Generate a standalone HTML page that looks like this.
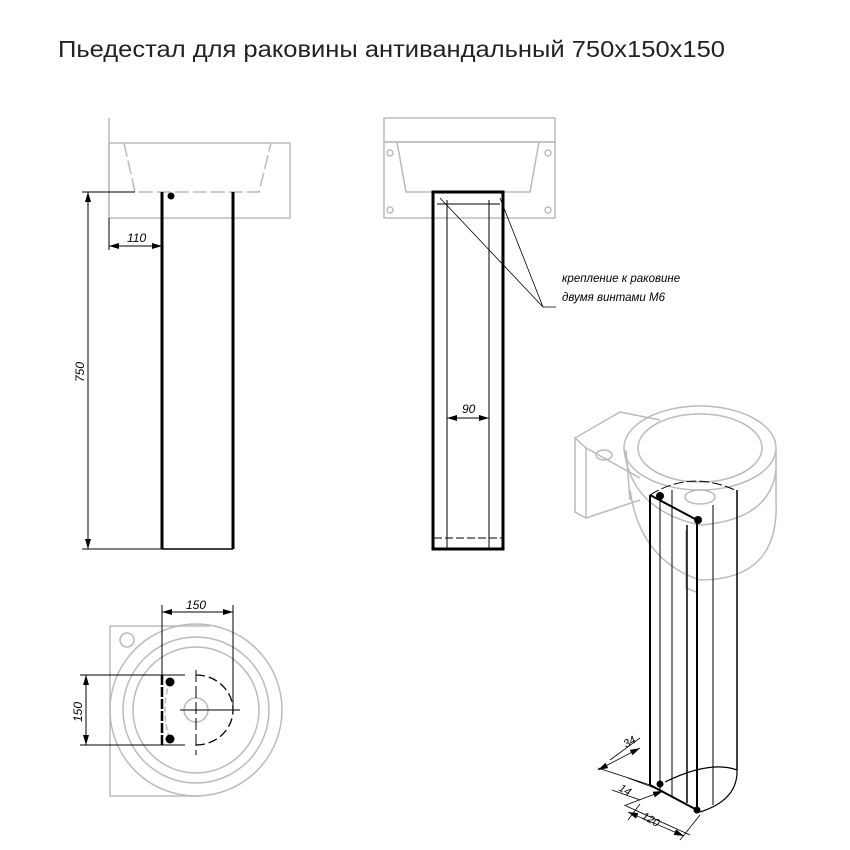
<!DOCTYPE html>
<html><head><meta charset="utf-8"><style>
html,body{margin:0;padding:0;background:#fff}
svg{display:block}
text{font-family:"Liberation Sans",sans-serif}
</style></head><body>
<svg width="850" height="850" viewBox="0 0 850 850" xmlns="http://www.w3.org/2000/svg">
<defs>
<marker id="a" viewBox="0 0 10 6" refX="10" refY="3" markerWidth="10" markerHeight="6" orient="auto-start-reverse" markerUnits="userSpaceOnUse"><path d="M0,0 L10,3 L0,6z" fill="#000"/></marker>
</defs>
<text x="58" y="57" font-size="23" fill="#222" textLength="667" lengthAdjust="spacingAndGlyphs">Пьедестал для раковины антивандальный 750x150x150</text>

<!-- View 1 -->
<g stroke="#bbb" stroke-width="1.5" fill="none">
<line x1="109" y1="118" x2="109" y2="218"/>
<rect x="109" y="143" width="181" height="75"/>
<path d="M124,143 L135,192 L259,192 L271,143" stroke-dasharray="14,4"/>
</g>
<g stroke="#000" fill="none">
<line x1="162" y1="192" x2="162" y2="549" stroke-width="3"/>
<line x1="233" y1="192" x2="233" y2="549" stroke-width="3"/>
<line x1="162" y1="549" x2="233" y2="549" stroke-width="1.5"/>
<line x1="82" y1="192" x2="135" y2="192" stroke-width="1"/>
<line x1="82" y1="549" x2="162" y2="549" stroke-width="1"/>
<line x1="88" y1="192" x2="88" y2="549" stroke-width="1" marker-start="url(#a)" marker-end="url(#a)"/>
<line x1="109" y1="218" x2="109" y2="250" stroke-width="1"/>
<line x1="109" y1="246" x2="162" y2="246" stroke-width="1" marker-start="url(#a)" marker-end="url(#a)"/>
</g>
<circle cx="171" cy="196" r="3.5" fill="#000"/>
<text x="127" y="242" font-size="12" font-style="italic">110</text>
<text transform="translate(84,382) rotate(-90)" font-size="12" font-style="italic">750</text>

<!-- View 2 -->
<g stroke="#bbb" stroke-width="1.5" fill="none">
<rect x="384" y="118" width="171" height="24"/>
<rect x="384" y="142" width="171" height="76"/>
<path d="M397,142 L406,192 L530,192 L539,142"/>
<circle cx="390" cy="153" r="3"/><circle cx="548" cy="153" r="3"/>
<circle cx="390" cy="210" r="3"/><circle cx="548" cy="210" r="3"/>
</g>
<g stroke="#000" fill="none">
<rect x="433" y="192" width="70" height="357" stroke-width="3"/>
<line x1="447" y1="200" x2="447" y2="549" stroke-width="1"/>
<line x1="489" y1="200" x2="489" y2="549" stroke-width="1"/>
<line x1="437" y1="204" x2="500" y2="204" stroke-width="1"/>
<line x1="434" y1="538" x2="502" y2="538" stroke-width="1" stroke-dasharray="8,3"/>
<line x1="447" y1="418" x2="489" y2="418" stroke-width="1" marker-start="url(#a)" marker-end="url(#a)"/>
<path d="M440,198 L543,307 L556,307 M500,198 L543,307" stroke-width="0.8"/>
</g>
<text x="462" y="413" font-size="12" font-style="italic">90</text>
<text x="562" y="282" font-size="11.5" font-style="italic">крепление к раковине</text>
<text x="562" y="301" font-size="11.5" font-style="italic">двумя винтами М6</text>

<!-- View 3 top -->
<g stroke="#bbb" stroke-width="1.5" fill="none">
<path d="M210,626 L110,626 L110,796 L200,796"/>
<circle cx="196" cy="710" r="86"/>
<circle cx="196" cy="710" r="73"/>
<circle cx="196" cy="710" r="63"/>
<circle cx="127" cy="640" r="7"/>
<circle cx="196" cy="710" r="12"/>
<path d="M170,680 Q160,710 170,740" stroke-dasharray="6,3"/>
</g>
<g stroke="#000" fill="none" stroke-width="1">
<path d="M196,675 A37,35 0 0 1 196,745" stroke-dasharray="9,4" stroke-width="1.3"/>
<line x1="162" y1="675" x2="162" y2="745" stroke-width="2.5" stroke-dasharray="10,2"/>
<line x1="162" y1="675" x2="185" y2="675"/>
<line x1="162" y1="745" x2="185" y2="745"/>
<line x1="180" y1="710" x2="240" y2="710"/>
<line x1="196" y1="670" x2="196" y2="755" stroke-dasharray="12,4"/>
<line x1="162" y1="605" x2="162" y2="675"/>
<line x1="233" y1="605" x2="233" y2="710"/>
<line x1="162" y1="612" x2="233" y2="612" marker-start="url(#a)" marker-end="url(#a)"/>
<line x1="80" y1="675" x2="162" y2="675"/>
<line x1="80" y1="745" x2="162" y2="745"/>
<line x1="86" y1="675" x2="86" y2="745" marker-start="url(#a)" marker-end="url(#a)"/>
</g>
<circle cx="170" cy="682" r="4.5" fill="#000"/><circle cx="170" cy="739" r="4.5" fill="#000"/>
<text x="186" y="609" font-size="12" font-style="italic">150</text>
<text transform="translate(82,722) rotate(-90)" font-size="12" font-style="italic">150</text>

<!-- View 4 isometric -->
<g stroke="#bbb" stroke-width="1.5" fill="none">
<path d="M575,438 L575,512 L586,518 L586,448 Z"/>
<path d="M586,448 L640,478 M586,518 L640,500"/>
<path d="M575,438 L620,412 L660,420"/>
<ellipse cx="700" cy="448" rx="76" ry="42"/>
<ellipse cx="700" cy="448" rx="62" ry="34"/>
<path d="M624,448 Q630,510 700,525 Q770,520 776,470"/>
<path d="M630,490 Q640,560 700,580 Q780,580 776,500"/>
<line x1="626" y1="450" x2="630" y2="500"/>
<line x1="776" y1="450" x2="776" y2="500"/>
<path d="M686,530 L686,588 L696,592" />
<ellipse cx="604" cy="455" rx="8" ry="5"/>
<ellipse cx="700" cy="497" rx="15" ry="7"/>
</g>
<g stroke="#000" fill="none" stroke-width="1">
<path d="M650,495 Q690,470 735,490" stroke-dasharray="10,3"/>
<line x1="650" y1="495" x2="650" y2="785" stroke-width="2"/>
<line x1="660" y1="500" x2="660" y2="790"/>
<line x1="672" y1="490" x2="672" y2="797"/>
<line x1="687" y1="525" x2="687" y2="803" stroke-width="1.5"/>
<line x1="697" y1="520" x2="697" y2="810" stroke-width="2"/>
<line x1="713" y1="505" x2="713" y2="805"/>
<line x1="737" y1="490" x2="737" y2="770" stroke-width="1.5"/>
<line x1="650" y1="495" x2="697" y2="520" stroke-width="2"/>
<path d="M665,782 Q710,760 737,770 Q738,800 700,812" stroke-width="1.2"/>
<line x1="650" y1="785" x2="697" y2="810" stroke-width="2"/>
<path d="M598,768 L650,785 M610,760 L640,738 M628,778 L660,790" stroke-width="0.8"/>
<path d="M598,770 L640,748" marker-start="url(#a)" marker-end="url(#a)" stroke-width="0.8"/>
<path d="M612,790 L640,800" stroke-width="0.8"/>
<path d="M626,805 L663,791" marker-end="url(#a)" stroke-width="0.8"/>
<path d="M624,805 L690,835 M640,804 L628,820 M700,815 L680,840" stroke-width="0.8"/>
<path d="M628,812 L684,836" marker-start="url(#a)" marker-end="url(#a)" stroke-width="0.8"/>
</g>
<circle cx="660" cy="496" r="4" fill="#000"/><circle cx="698" cy="520" r="4" fill="#000"/>
<circle cx="660" cy="784" r="3.5" fill="#000"/><circle cx="697" cy="810" r="3.5" fill="#000"/>
<text transform="translate(626,748) rotate(-30)" font-size="11" font-style="italic">34</text>
<text transform="translate(618,790) rotate(30)" font-size="11" font-style="italic">14</text>
<text transform="translate(641,818) rotate(30)" font-size="11" font-style="italic">120</text>
</svg>
</body></html>
